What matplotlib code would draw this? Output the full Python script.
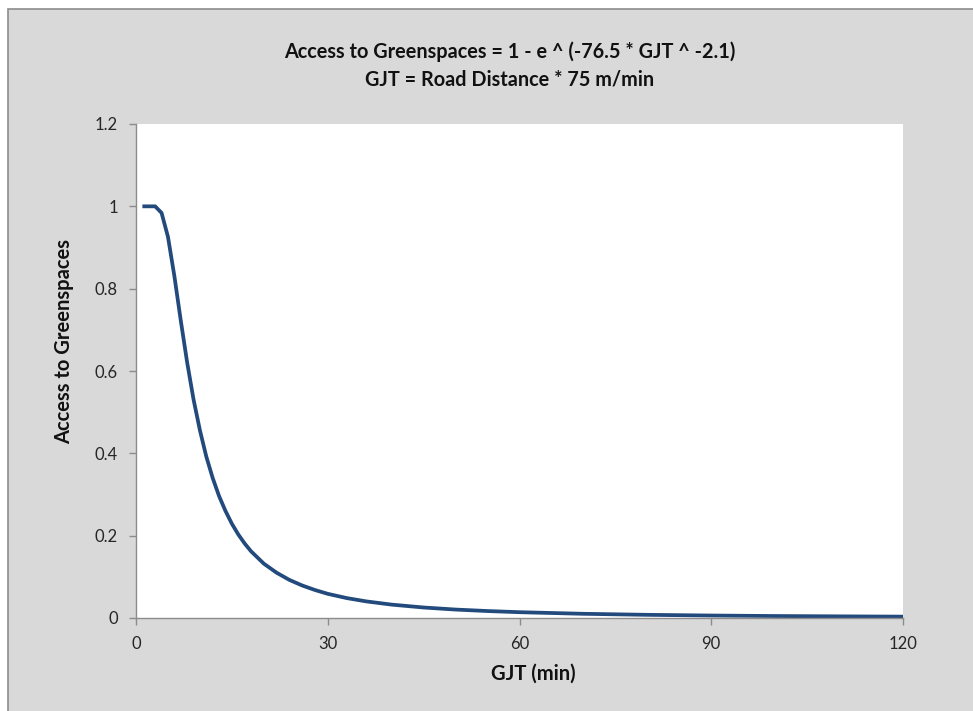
import matplotlib.pyplot as plt
from matplotlib.patches import Rectangle

# GJT in minutes and access values
gjt_min = [1, 2, 3, 4, 5, 6, 7, 8, 9, 10, 11, 12, 13, 14, 15, 16, 17, 18,
           20, 22, 24, 26, 28, 30, 33, 36, 40, 45, 50, 55, 60, 70, 80, 90,
           100, 110, 120]
access = [1.0, 1.0, 1.0, 0.984, 0.926, 0.831, 0.723, 0.621, 0.531, 0.456,
          0.392, 0.340, 0.296, 0.260, 0.229, 0.203, 0.181, 0.162,
          0.132, 0.110, 0.0925, 0.079, 0.068, 0.0587, 0.0483, 0.0404,
          0.0325, 0.0255, 0.0205, 0.0169, 0.0141, 0.0102, 0.0077, 0.0060,
          0.0048, 0.0040, 0.0033]
x_ticks = [0, 30, 60, 90, 120]
y_ticks = [0, 0.2, 0.4, 0.6, 0.8, 1, 1.2]
y_labels = ['0', '0.2', '0.4', '0.6', '0.8', '1', '1.2']

plt.rcParams['font.family'] = ['Lato', 'DejaVu Sans']

W, H = 973, 711
fig = plt.figure(figsize=(W / 100, H / 100), dpi=100)
fig.patch.set_facecolor('white')

# grey chart area with a thin border at top/left
bg = Rectangle((8 / W, -0.01), 1.02, (H - 9) / H + 0.01, transform=fig.transFigure,
               facecolor='#d9d9d9', edgecolor='#8c8c8c', linewidth=1.2, zorder=-5)
fig.patches.append(bg)

ax = fig.add_axes([136 / W, (H - 618) / H, (903 - 136) / W, (618 - 124) / H])
ax.set_zorder(2)
ax.set_facecolor('white')

ax.plot(gjt_min, access, color='#234a7c', linewidth=2.7, solid_capstyle='butt',
        solid_joinstyle='round', clip_on=False)

ax.set_xlim(0, 120)
ax.set_ylim(0, 1.2)
ax.set_xticks(x_ticks)
ax.set_yticks(y_ticks)
ax.set_yticklabels(y_labels)

for s in ['top', 'right']:
    ax.spines[s].set_visible(False)
for s in ['left', 'bottom']:
    ax.spines[s].set_color('#8c8c8c')
    ax.spines[s].set_linewidth(1.0)

ax.tick_params(axis='both', direction='out', length=5, width=1, colors='#8c8c8c',
               labelcolor='#262626', labelsize=12)
ax.tick_params(axis='x', pad=8)
ax.tick_params(axis='y', pad=8)

ax.set_xlabel('GJT (min)', fontsize=14.5, fontweight='bold', color='#111111')
ax.xaxis.set_label_coords((533 - 136) / 767, (618 - 664) / 494)
ax.set_ylabel('Access to Greenspaces', fontsize=14.5, fontweight='bold', color='#111111')
ax.yaxis.set_label_coords((74 - 136) / 767, (618 - 342) / 494)

fig.text(510 / W, 1 - 52 / H, 'Access to Greenspaces = 1 - e ^ (-76.5 * GJT ^ -2.1)',
         ha='center', va='center', fontsize=14.3, fontweight='bold', color='#111111')
fig.text(510 / W, 1 - 79 / H, 'GJT = Road Distance * 75 m/min',
         ha='center', va='center', fontsize=14.3, fontweight='bold', color='#111111')

fig.savefig('out.png', dpi=100)
